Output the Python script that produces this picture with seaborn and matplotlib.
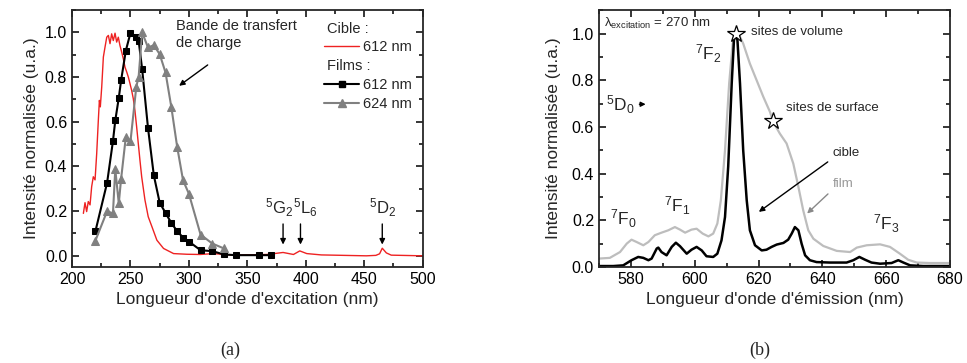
import pandas as pd
import matplotlib.pyplot as plt
import seaborn as sns
from matplotlib.lines import Line2D
from matplotlib.ticker import MultipleLocator

plt.switch_backend('Agg')

# (a) excitation spectra
cible_x = [209.7, 211.1, 212.5, 213.9, 215.4, 216.8, 218.2, 219.7, 221.1, 222.5,
           223.4, 224.2, 225.4, 226.8, 228.2, 229.7, 231.1, 232.5, 233.9, 235.3,
           236.8, 238.2, 239.6, 241.0, 242.5, 243.9, 245.3, 246.8, 248.2, 249.6,
           251.0, 252.4, 253.8, 255.3, 256.7, 258.1, 259.6, 262.4, 265.2, 268.4,
           272.6, 278.3, 286.9, 298.3, 309.7, 321.0, 338.0, 366.7, 373.0, 380.6,
           389.5, 394.9, 400.9, 413.4, 423.4, 451.9, 460.0, 463.2, 465.5, 469.0,
           473.2, 500.0]
cible_y = [0.19, 0.238, 0.198, 0.243, 0.228, 0.31, 0.354, 0.34, 0.458, 0.607,
           0.696, 0.667, 0.756, 0.89, 0.934, 0.979, 0.987, 0.95, 0.994, 0.964,
           0.997, 0.957, 0.979, 0.942, 0.912, 0.882, 0.845, 0.823, 0.8, 0.771,
           0.741, 0.704, 0.652, 0.577, 0.503, 0.429, 0.354, 0.25, 0.175, 0.13,
           0.07, 0.033, 0.01, 0.007, 0.006, 0.01, 0.003, 0.006, 0.01, 0.015,
           0.006, 0.022, 0.01, 0.004, 0.003, 0.0, 0.002, 0.009, 0.034, 0.013,
           0.003, 0.0]

film612_x = [220, 230, 235, 237, 240, 242, 246, 250, 255, 257, 260, 265, 270,
             275, 280, 285, 290, 295, 300, 310, 320, 330, 340, 360, 370]
film612_y = [0.11, 0.327, 0.513, 0.606, 0.707, 0.786, 0.918, 0.998, 0.98, 0.963,
             0.836, 0.573, 0.36, 0.238, 0.192, 0.147, 0.11, 0.082, 0.064, 0.025,
             0.021, 0.006, 0.003, 0.003, 0.003]

film624_x = [220, 230, 235, 237, 240, 242, 246, 250, 255, 257, 260, 265, 270,
             275, 280, 285, 290, 295, 300, 310, 320, 330]
film624_y = [0.068, 0.2, 0.19, 0.387, 0.235, 0.345, 0.531, 0.512, 0.757, 0.802,
             1.0, 0.933, 0.943, 0.903, 0.821, 0.665, 0.487, 0.338, 0.278, 0.095,
             0.055, 0.033]

# (b) emission spectra
em_cible_x = [570, 574.5, 577.6, 580.2, 582.3, 583.9, 585.5, 586.5, 588.1, 588.6,
              589.6, 591.2, 592.8, 594.1, 595.4, 597.5, 599.0, 600.6, 602.2, 603.7,
              605.8, 607.1, 608.4, 609.5, 610.5, 611.6, 612.3, 612.8, 613.4, 614.2,
              615.2, 616.3, 617.3, 618.9, 621.0, 622.5, 624.1, 625.7, 627.8, 629.3,
              630.4, 631.4, 632.5, 633.5, 634.6, 636.1, 638.2, 642.4, 647.6, 649.7,
              651.6, 653.4, 655.4, 658.1, 661.7, 663.8, 665.4, 667.5, 671.6, 680]
em_cible_y = [0.004, 0.004, 0.007, 0.029, 0.043, 0.039, 0.029, 0.036, 0.079, 0.083,
              0.064, 0.05, 0.086, 0.104, 0.089, 0.057, 0.074, 0.086, 0.071, 0.046,
              0.043, 0.057, 0.114, 0.214, 0.43, 0.786, 0.971, 1.0, 0.971, 0.786,
              0.5, 0.286, 0.157, 0.093, 0.071, 0.074, 0.086, 0.096, 0.103, 0.117,
              0.143, 0.171, 0.157, 0.1, 0.05, 0.029, 0.021, 0.019, 0.019, 0.029,
              0.043, 0.031, 0.019, 0.014, 0.017, 0.029, 0.019, 0.007, 0.004, 0.004]

em_film_x = [570, 573.4, 576.6, 578.7, 580.2, 581.8, 583.9, 585.5, 587.5, 589.6,
             591.7, 593.8, 595.4, 597.0, 599.0, 600.6, 602.5, 604.3, 605.8, 607.1,
             608.2, 609.5, 610.8, 611.9, 612.6, 613.7, 615.2, 617.3, 619.4, 621.5,
             623.6, 624.6, 626.7, 628.8, 630.9, 632.5, 634.0, 635.6, 637.2, 640.3,
             644.5, 648.7, 650.8, 653.9, 658.1, 661.2, 664.3, 666.9, 669.6, 673.7, 680]
em_film_y = [0.036, 0.039, 0.064, 0.1, 0.117, 0.107, 0.093, 0.107, 0.136, 0.147,
             0.157, 0.171, 0.16, 0.147, 0.16, 0.164, 0.143, 0.131, 0.143, 0.186,
             0.286, 0.5, 0.786, 0.957, 1.0, 1.0, 0.957, 0.871, 0.8, 0.729,
             0.664, 0.621, 0.571, 0.529, 0.443, 0.343, 0.243, 0.157, 0.121, 0.09,
             0.069, 0.064, 0.083, 0.093, 0.097, 0.086, 0.057, 0.031, 0.019, 0.017, 0.017]

star_x = [613.0, 624.5]
star_y = [1.0, 0.625]

sns.set_style('ticks')
plt.rcParams['font.family'] = ['Liberation Sans', 'DejaVu Sans']
plt.rcParams['mathtext.fontset'] = 'custom'
plt.rcParams['mathtext.rm'] = 'Liberation Sans'
plt.rcParams['mathtext.it'] = 'Liberation Sans:italic'
plt.rcParams['axes.linewidth'] = 1.3

fig = plt.figure(figsize=(9.67, 3.63), dpi=100)
ax1 = fig.add_axes([0.0745, 0.2645, 0.3625, 0.7075])
ax2 = fig.add_axes([0.6194, 0.2645, 0.363, 0.7075])

red = '#ee2222'
grey = '#808080'
light = '#bdbdbd'

sns.lineplot(x=cible_x, y=cible_y, ax=ax1, color=red, lw=1.0, estimator=None)
sns.lineplot(x=film612_x, y=film612_y, ax=ax1, color='black', lw=1.5, marker='s',
             ms=5, mec='black', mfc='black', estimator=None)
sns.lineplot(x=film624_x, y=film624_y, ax=ax1, color=grey, lw=1.5, marker='^',
             ms=6, mec=grey, mfc=grey, estimator=None)

sns.lineplot(x=em_film_x, y=em_film_y, ax=ax2, color=light, lw=1.6, estimator=None)
sns.lineplot(x=em_cible_x, y=em_cible_y, ax=ax2, color='black', lw=1.8, estimator=None)
ax2.plot(star_x, star_y, ls='none', marker='*', ms=13, mfc='white', mec='black', mew=0.9)

for ax in (ax1, ax2):
    ax.tick_params(which='both', direction='in', top=True, right=True, width=1.1,
                   labelsize=11.5, colors='black')
    ax.tick_params(which='major', length=5)
    ax.tick_params(which='minor', length=3)
    ax.yaxis.set_major_locator(MultipleLocator(0.2))
    ax.yaxis.set_minor_locator(MultipleLocator(0.1))
    ax.set_ylabel('Intensité normalisée (u.a.)', fontsize=12.5)
    for s in ax.spines.values():
        s.set_visible(True)
        s.set_linewidth(1.3)

ax1.set_xlim(200, 500)
ax1.set_ylim(-0.05, 1.1)
ax1.xaxis.set_major_locator(MultipleLocator(50))
ax1.xaxis.set_minor_locator(MultipleLocator(25))
ax1.set_xlabel("Longueur d'onde d'excitation (nm)", fontsize=12.5)

ax2.set_xlim(570, 680)
ax2.set_ylim(0, 1.1)
ax2.xaxis.set_major_locator(MultipleLocator(20))
ax2.xaxis.set_minor_locator(MultipleLocator(10))
ax2.set_xlabel("Longueur d'onde d'émission (nm)", fontsize=12.5)
ax2.yaxis.labelpad = 8

# legend (a)
handles = [Line2D([], [], color='none'),
           Line2D([], [], color=red, lw=1.0),
           Line2D([], [], color='none'),
           Line2D([], [], color='black', lw=1.5, marker='s', ms=5),
           Line2D([], [], color=grey, lw=1.5, marker='^', ms=6)]
labels = [' ', '612 nm', ' ', '612 nm', '624 nm']
ax1.legend(handles, labels, loc='upper left', bbox_to_anchor=(0.69, 0.995),
           frameon=False, fontsize=10.5, handlelength=2.4, handletextpad=0.3,
           labelspacing=0.33, borderaxespad=0.3)
ax1.text(0.728, 0.925, 'Cible :', transform=ax1.transAxes, fontsize=10.5, va='center')
ax1.text(0.728, 0.782, 'Films :', transform=ax1.transAxes, fontsize=10.5, va='center')

# annotations (a)
ax1.text(288.6, 0.99, 'Bande de transfert\nde charge', fontsize=10.5, va='center',
         linespacing=1.3)
ax1.annotate('', xy=(289.7, 0.754), xytext=(318, 0.862),
             arrowprops=dict(arrowstyle='-|>', color='black', lw=1.0, mutation_scale=8))
for xp in [380.6, 395.5, 465.5]:
    ax1.annotate('', xy=(xp, 0.038), xytext=(xp, 0.155),
                 arrowprops=dict(arrowstyle='-|>', color='black', lw=1.0, mutation_scale=8))
ax1.text(377, 0.165, '$^5$G$_2$', fontsize=12, ha='center', va='bottom')
ax1.text(399.5, 0.165, '$^5$L$_6$', fontsize=12, ha='center', va='bottom')
ax1.text(466, 0.165, '$^5$D$_2$', fontsize=12, ha='center', va='bottom')

# annotations (b)
ax2.text(571.5, 1.043, 'λ$_{\\mathrm{excitation}}$ = 270 nm', fontsize=9.5, va='center')
ax2.text(617.8, 1.005, 'sites de volume', fontsize=9.5, va='center')
ax2.text(628.5, 0.683, 'sites de surface', fontsize=9.5, va='center')
ax2.text(604.2, 0.915, '$^7$F$_2$', fontsize=12.5, ha='center', va='center')
ax2.text(577.5, 0.207, '$^7$F$_0$', fontsize=12.5, ha='center', va='center')
ax2.text(594.5, 0.262, '$^7$F$_1$', fontsize=12.5, ha='center', va='center')
ax2.text(660.0, 0.186, '$^7$F$_3$', fontsize=12.5, ha='center', va='center')
ax2.text(576.8, 0.697, '$^5$D$_0$', fontsize=12.5, ha='center', va='center')
ax2.annotate('', xy=(585.5, 0.697), xytext=(581.8, 0.697),
             arrowprops=dict(arrowstyle='-|>', color='black', lw=1.0, mutation_scale=7))
ax2.text(643.2, 0.489, 'cible', fontsize=9.5, va='center')
ax2.annotate('', xy=(619.4, 0.229), xytext=(642.4, 0.457),
             arrowprops=dict(arrowstyle='-|>', color='black', lw=1.0, mutation_scale=8))
ax2.text(643.4, 0.354, 'film', fontsize=9.5, va='center', color='#999999')
ax2.annotate('', xy=(634.6, 0.221), xytext=(642.4, 0.321),
             arrowprops=dict(arrowstyle='-|>', color='#888888', lw=1.0, mutation_scale=8))

fig.text(0.238, 0.036, '(a)', fontsize=13, ha='center', va='center', family='Liberation Serif')
fig.text(0.786, 0.036, '(b)', fontsize=13, ha='center', va='center', family='Liberation Serif')

fig.savefig('out.png', dpi=100)
plt.close()
